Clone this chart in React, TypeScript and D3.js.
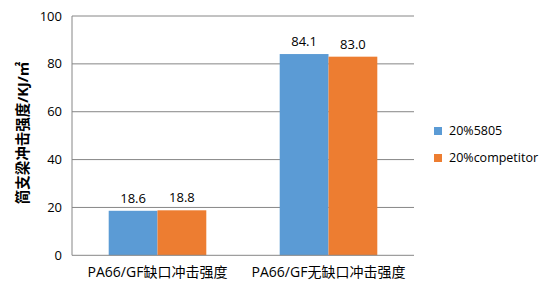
import React from "react";
import * as d3 from "d3";

const categories = ["PA66/GF缺口冲击强度", "PA66/GF无缺口冲击强度"];
const seriesNames = ["20%5805", "20%competitor"];
const series5805 = [18.6, 84.1];
const seriesCompetitor = [18.8, 83.0];
const yTicks = [0, 20, 40, 60, 80, 100];
const colors = ["#5B9BD5", "#ED7D31"];

const W = 554, H = 294;
const left = 72, right = 414, top = 16, bottom = 255.3;
const FONT = "'Open Sans', 'Noto Sans CJK SC', sans-serif";

export default function App() {
  const x = d3.scaleBand<string>().domain(categories).range([left, right]);
  const inner = d3.scaleBand<number>().domain([0, 1]).range([-48.8, 48.8]);
  const y = d3.scaleLinear().domain([0, 100]).range([bottom, top]);
  const data = [series5805, seriesCompetitor];
  return (
    <svg width={W} height={H} style={{ position: "absolute", left: 0, top: 0, fontFamily: FONT }}>
      <rect width={W} height={H} fill="#fff" />
      {yTicks.map((t) => (
        <g key={t}>
          {t > 0 && <line x1={left} x2={right} y1={y(t)} y2={y(t)} stroke="#868686" strokeWidth={1} />}
          <text x={62} y={y(t)} dy="0.35em" textAnchor="end" fontSize={13} fill="#000">{t}</text>
        </g>
      ))}
      {categories.map((c, i) => {
        const cx = (x(c) ?? 0) + x.bandwidth() / 2;
        return (
          <g key={c}>
            {data.map((s, j) => {
              const bx = cx + (inner(j) ?? 0);
              return (
                <g key={j}>
                  <rect x={bx} y={y(s[i])} width={inner.bandwidth()} height={bottom - y(s[i])} fill={colors[j]} />
                  <text x={bx + inner.bandwidth() / 2} y={y(s[i]) - 8} textAnchor="middle" fontSize={13} fill="#000">
                    {s[i].toFixed(1)}
                  </text>
                </g>
              );
            })}
            <text x={cx} y={277} textAnchor="middle" fontSize={14} fill="#000">{c}</text>
          </g>
        );
      })}
      <line x1={left} x2={left} y1={top} y2={bottom} stroke="#868686" />
      <line x1={left} x2={right} y1={bottom} y2={bottom} stroke="#868686" />
      <text transform={`translate(28,${133}) rotate(-90)`} textAnchor="middle" fontSize={14.5} fontWeight="bold" fill="#000">
        简支梁冲击强度/KJ/㎡
      </text>
      {seriesNames.map((n, j) => (
        <g key={n} transform={`translate(434,${131 + j * 27})`}>
          <rect x={0} y={-4} width={8} height={8} fill={colors[j]} />
          <text x={15} y={0} dy="0.35em" fontSize={12.5} fill="#000">{n}</text>
        </g>
      ))}
    </svg>
  );
}
